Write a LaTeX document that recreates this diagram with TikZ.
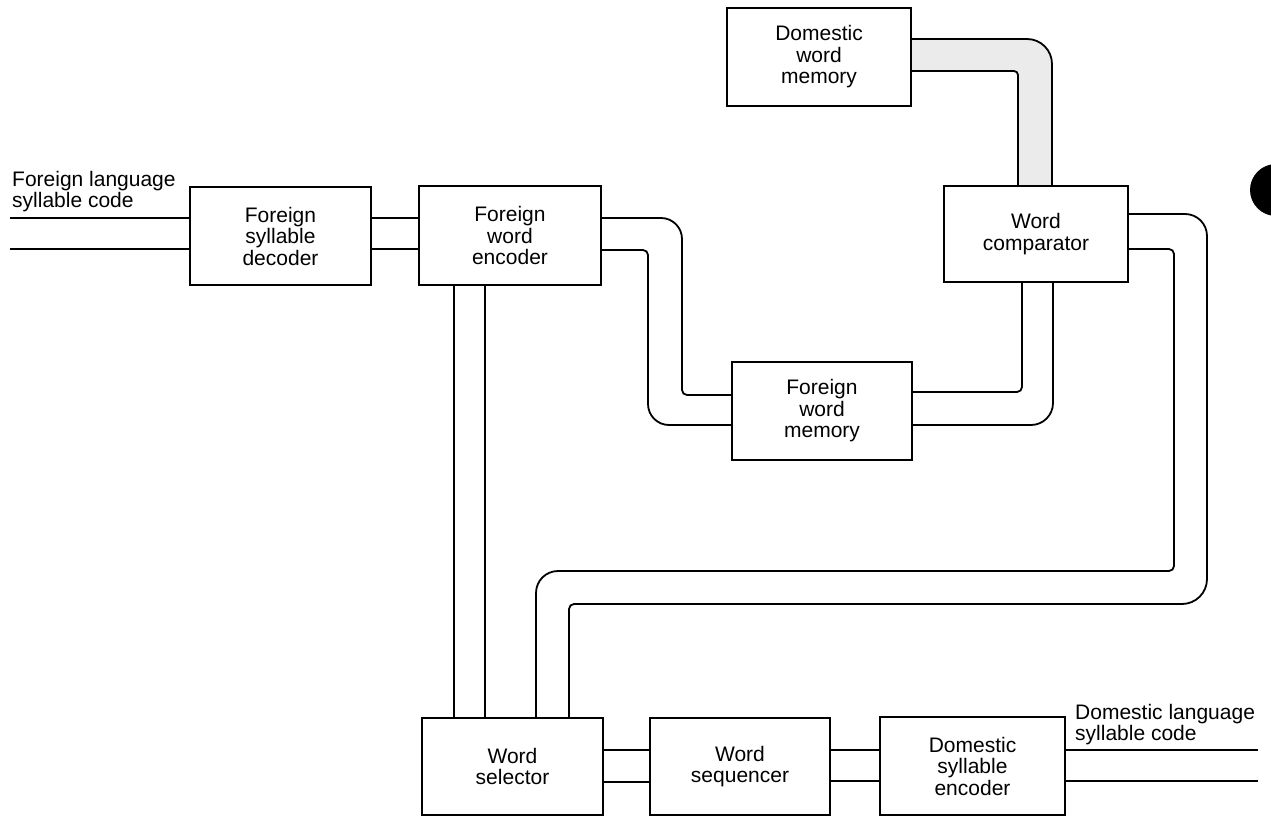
\documentclass[tikz,border=0pt]{standalone}
\usepackage{fontspec}
\setmainfont{Liberation Sans}
\usetikzlibrary{backgrounds}
\begin{document}
\begin{tikzpicture}[x=1pt,y=-1pt,
  box/.style={draw, line width=1.8pt, fill=white, align=center, inner sep=0pt,
    font=\fontsize{21}{21.5}\selectfont},
  wire/.style={line width=1.8pt},
  lbl/.style={align=left, inner sep=0pt, font=\fontsize{21}{21}\selectfont}]
\useasboundingbox (0,0) rectangle (1271,818);

% boxes
\node[box, minimum width=181pt, minimum height=98pt] (dec)  at (280.5,236) {Foreign\\syllable\\decoder};
\node[box, minimum width=182pt, minimum height=99pt] (enc)  at (510,235.5) {Foreign\\word\\encoder};
\node[box, minimum width=184pt, minimum height=98pt] (dmem) at (819,57)    {Domestic\\word\\memory};
\node[box, minimum width=184pt, minimum height=96pt] (comp) at (1036,234)  {Word\\comparator};
\node[box, minimum width=180pt, minimum height=98pt] (fmem) at (822,411)   {Foreign\\word\\memory};
\node[box, minimum width=181pt, minimum height=97pt] (sel)  at (512.5,766.5) {Word\\selector};
\node[box, minimum width=180pt, minimum height=97pt] (seq)  at (740,766.5) {Word\\sequencer};
\node[box, minimum width=185pt, minimum height=98pt] (denc) at (972.5,766)  {Domestic\\syllable\\encoder};

% labels
\node[lbl, anchor=north west] (inlbl)  at (12,171)  {Foreign language\\syllable code};
\node[lbl, anchor=north west] (outlbl) at (1075,704) {Domestic language\\syllable code};

\coordinate (inA) at (10,218);
\coordinate (inB) at (10,249);
\coordinate (outA) at (1258,750);
\coordinate (outB) at (1258,781);

% shaded pipe between domestic word memory and comparator
\begin{scope}[on background layer]
\fill[black!8] (dmem.east|-0,39) -- (1027,39) arc[start angle=90,end angle=0,radius=25pt]
  -- (comp.north-|1052,0) -- (comp.north-|1018,0) -- (1018,75)
  arc[start angle=0,end angle=90,radius=4pt] -- (dmem.east|-0,71) -- cycle;
\end{scope}

% input
\draw[wire] (inA) -- (dec.west|-inA);
\draw[wire] (inB) -- (dec.west|-inB);
% decoder -> encoder
\draw[wire] (dec.east|-0,218) -- (enc.west|-0,218);
\draw[wire] (dec.east|-0,249) -- (enc.west|-0,249);
% encoder -> foreign word memory
\draw[wire, rounded corners=21pt] (enc.east|-0,218) -- (682,218) -- (682,300);
\draw[wire, rounded corners=5pt] (682,300) -- (682,395) -- (fmem.west|-0,395);
\draw[wire, rounded corners=5pt] (enc.east|-0,250) -- (648,250) -- (648,330);
\draw[wire, rounded corners=21pt] (648,330) -- (648,425) -- (fmem.west|-0,425);
% foreign word memory -> comparator
\draw[wire, rounded corners=5pt] (fmem.east|-0,392) -- (1022,392) -- (comp.south-|1022,0);
\draw[wire, rounded corners=22pt] (fmem.east|-0,425) -- (1053,425) -- (comp.south-|1053,0);
% domestic word memory -> comparator
\draw[wire, rounded corners=25pt] (dmem.east|-0,39) -- (1052,39) -- (comp.north-|1052,0);
\draw[wire, rounded corners=4pt] (dmem.east|-0,71) -- (1018,71) -- (comp.north-|1018,0);
% comparator -> selector
\draw[wire, rounded corners=22pt] (comp.east|-0,214) -- (1207,214) -- (1207,400);
\draw[wire, rounded corners=25pt] (1207,400) -- (1207,604) -- (900,604);
\draw[wire, rounded corners=5pt] (900,604) -- (569,604) -- (sel.north-|569,0);
\draw[wire, rounded corners=5pt] (comp.east|-0,249) -- (1174,249) -- (1174,571) -- (800,571);
\draw[wire, rounded corners=22pt] (800,571) -- (536,571) -- (sel.north-|536,0);
% encoder -> selector
\draw[wire] (enc.south-|454,0) -- (sel.north-|454,0);
\draw[wire] (enc.south-|485,0) -- (sel.north-|485,0);
% selector -> sequencer -> encoder -> output
\draw[wire] (sel.east|-0,750) -- (seq.west|-0,750);
\draw[wire] (sel.east|-0,782) -- (seq.west|-0,782);
\draw[wire] (seq.east|-0,750) -- (denc.west|-0,750);
\draw[wire] (seq.east|-0,781) -- (denc.west|-0,781);
\draw[wire] (denc.east|-outA) -- (outA);
\draw[wire] (denc.east|-outB) -- (outB);

% punch hole at the right edge
\begin{scope}
\clip (0,0) rectangle (1271,818);
\fill[black] (1276,190) circle[radius=26pt];
\end{scope}
\end{tikzpicture}
\end{document}
